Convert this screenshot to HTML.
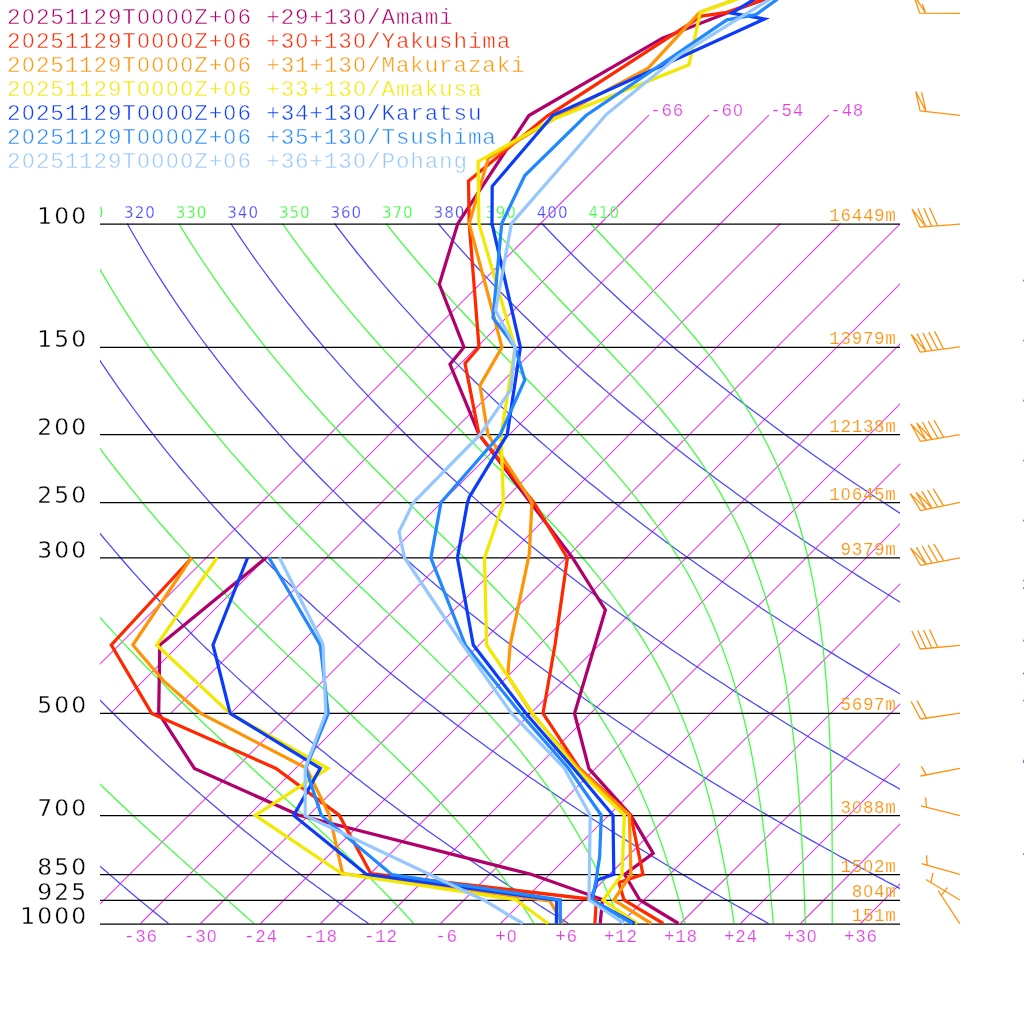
<!DOCTYPE html>
<html><head><meta charset="utf-8"><title>Emagram</title>
<style>html,body{margin:0;padding:0;background:#fff}svg{display:block}.m{font-family:"Liberation Mono",monospace}.s{font-family:"DejaVu Sans","Liberation Sans",sans-serif}</style></head><body>
<svg width="1024" height="1024" viewBox="0 0 1024 1024">
<rect width="1024" height="1024" fill="#fff"/>
<defs><clipPath id="c"><rect x="100" y="223" width="800" height="701"/><rect x="1023" y="223" width="1" height="701"/></clipPath><clipPath id="c2"><rect x="100" y="100" width="800" height="124"/></clipPath><clipPath id="c3"><rect x="100" y="190" width="800" height="40"/></clipPath></defs>
<g clip-path="url(#c)" fill="none" stroke-width="1.25">
<line x1="51.2" y1="712.8" x2="540.5" y2="223.5" stroke="#e23ee2" stroke-width="1.1"/>
<line x1="111.2" y1="712.8" x2="600.5" y2="223.5" stroke="#e23ee2" stroke-width="1.1"/>
<line x1="171.2" y1="712.8" x2="660.5" y2="223.5" stroke="#e23ee2" stroke-width="1.1"/>
<line x1="231.2" y1="712.8" x2="720.5" y2="223.5" stroke="#e23ee2" stroke-width="1.1"/>
<line x1="80.5" y1="923.5" x2="780.5" y2="223.5" stroke="#e23ee2" stroke-width="1.1"/>
<line x1="140.5" y1="923.5" x2="840.5" y2="223.5" stroke="#e23ee2" stroke-width="1.1"/>
<line x1="200.5" y1="923.5" x2="900.5" y2="223.5" stroke="#e23ee2" stroke-width="1.1"/>
<line x1="260.5" y1="923.5" x2="960.5" y2="223.5" stroke="#e23ee2" stroke-width="1.1"/>
<line x1="320.5" y1="923.5" x2="1020.5" y2="223.5" stroke="#e23ee2" stroke-width="1.1"/>
<line x1="380.5" y1="923.5" x2="1080.5" y2="223.5" stroke="#e23ee2" stroke-width="1.1"/>
<line x1="440.5" y1="923.5" x2="1140.5" y2="223.5" stroke="#e23ee2" stroke-width="1.1"/>
<line x1="500.5" y1="923.5" x2="1200.5" y2="223.5" stroke="#e23ee2" stroke-width="1.1"/>
<line x1="560.5" y1="923.5" x2="1260.5" y2="223.5" stroke="#e23ee2" stroke-width="1.1"/>
<line x1="620.5" y1="923.5" x2="1320.5" y2="223.5" stroke="#e23ee2" stroke-width="1.1"/>
<line x1="680.5" y1="923.5" x2="1380.5" y2="223.5" stroke="#e23ee2" stroke-width="1.1"/>
<line x1="740.5" y1="923.5" x2="1440.5" y2="223.5" stroke="#e23ee2" stroke-width="1.1"/>
<line x1="800.5" y1="923.5" x2="1500.5" y2="223.5" stroke="#e23ee2" stroke-width="1.1"/>
<line x1="860.5" y1="923.5" x2="1560.5" y2="223.5" stroke="#e23ee2" stroke-width="1.1"/>
<path d="M-287.5,223.5 L-284.9,238.3 L-282.2,252.5 L-279.4,266.0 L-276.5,278.9 L-273.6,291.3 L-270.6,303.3 L-267.5,314.7 L-264.4,325.8 L-261.3,336.5 L-258.2,346.8 L-255.0,356.7 L-251.8,366.4 L-248.6,375.7 L-245.4,384.8 L-242.2,393.6 L-239.0,402.2 L-235.8,410.5 L-232.6,418.6 L-229.3,426.5 L-226.1,434.2 L-222.9,441.7 L-219.7,449.1 L-216.5,456.2 L-213.3,463.2 L-210.1,470.0 L-206.9,476.7 L-203.7,483.2 L-200.6,489.6 L-197.4,495.9 L-194.3,502.1 L-191.1,508.1 L-188.0,514.0 L-184.9,519.8 L-181.8,525.5 L-178.7,531.0 L-175.6,536.5 L-172.5,541.9 L-169.5,547.2 L-166.4,552.4 L-163.4,557.5 L-160.4,562.5 L-157.4,567.5 L-154.4,572.3 L-151.4,577.1 L-148.4,581.8 L-145.4,586.5 L-142.5,591.0 L-139.5,595.5 L-136.6,600.0 L-133.7,604.3 L-130.8,608.7 L-127.9,612.9 L-125.0,617.1 L-122.2,621.2 L-119.3,625.3 L-116.5,629.3 L-113.6,633.3 L-110.8,637.2 L-108.0,641.1 L-105.2,644.9 L-102.4,648.7 L-99.6,652.4 L-96.9,656.1 L-94.1,659.8 L-91.4,663.4 L-88.7,666.9 L-85.9,670.4 L-83.2,673.9 L-80.5,677.4 L-77.8,680.7 L-75.2,684.1 L-72.5,687.4 L-69.8,690.7 L-67.2,694.0 L-64.6,697.2 L-61.9,700.4 L-59.3,703.5 L-56.7,706.6 L-54.1,709.7 L-51.5,712.8 L-49.0,715.8 L-46.4,718.8 L-43.8,721.8 L-41.3,724.7 L-38.8,727.6 L-36.2,730.5 L-33.7,733.3 L-31.2,736.2 L-28.7,739.0 L-26.2,741.8 L-23.7,744.5 L-21.3,747.2 L-18.8,749.9 L-16.3,752.6 L-13.9,755.3 L-11.5,757.9 L-9.0,760.5 L-6.6,763.1 L-4.2,765.7 L-1.8,768.2 L0.6,770.7 L3.0,773.2 L5.4,775.7 L7.7,778.2 L10.1,780.6 L12.5,783.0 L14.8,785.4 L17.2,787.8 L19.5,790.2 L21.8,792.5 L24.1,794.9 L26.4,797.2 L28.7,799.5 L31.0,801.8 L33.3,804.0 L35.6,806.3 L37.9,808.5 L40.1,810.7 L42.4,812.9 L44.6,815.1 L46.9,817.2 L49.1,819.4 L51.4,821.5 L53.6,823.6 L55.8,825.7 L58.0,827.8 L60.2,829.9 L62.4,832.0 L64.6,834.0 L66.8,836.0 L69.0,838.1 L71.1,840.1 L73.3,842.1 L75.4,844.0 L77.6,846.0 L79.7,848.0 L81.9,849.9 L84.0,851.8 L86.1,853.8 L88.3,855.7 L90.4,857.6 L92.5,859.4 L94.6,861.3 L96.7,863.2 L98.8,865.0 L100.9,866.9 L102.9,868.7 L105.0,870.5 L107.1,872.3 L109.1,874.1 L111.2,875.9 L113.2,877.6 L115.3,879.4 L117.3,881.2 L119.4,882.9 L121.4,884.6 L123.4,886.4 L125.4,888.1 L127.4,889.8 L129.4,891.5 L131.4,893.2 L133.4,894.8 L135.4,896.5 L137.4,898.2 L139.4,899.8 L141.4,901.4 L143.3,903.1 L145.3,904.7 L147.3,906.3 L149.2,907.9 L151.2,909.5 L153.1,911.1 L155.1,912.7 L157.0,914.2 L158.9,915.8 L160.8,917.4 L162.8,918.9 L164.7,920.4 L166.6,922.0 L168.5,923.5" stroke="#4848ff"/>
<path d="M-183.9,223.5 L-179.8,238.3 L-175.7,252.5 L-171.5,266.0 L-167.3,278.9 L-163.1,291.3 L-158.8,303.3 L-154.6,314.7 L-150.3,325.8 L-146.1,336.5 L-141.8,346.8 L-137.5,356.7 L-133.3,366.4 L-129.1,375.7 L-124.8,384.8 L-120.6,393.6 L-116.4,402.2 L-112.2,410.5 L-108.1,418.6 L-103.9,426.5 L-99.8,434.2 L-95.7,441.7 L-91.6,449.1 L-87.5,456.2 L-83.5,463.2 L-79.4,470.0 L-75.4,476.7 L-71.5,483.2 L-67.5,489.6 L-63.5,495.9 L-59.6,502.1 L-55.7,508.1 L-51.8,514.0 L-48.0,519.8 L-44.1,525.5 L-40.3,531.0 L-36.5,536.5 L-32.8,541.9 L-29.0,547.2 L-25.3,552.4 L-21.6,557.5 L-17.9,562.5 L-14.2,567.5 L-10.5,572.3 L-6.9,577.1 L-3.3,581.8 L0.3,586.5 L3.9,591.0 L7.5,595.5 L11.0,600.0 L14.5,604.3 L18.0,608.7 L21.5,612.9 L25.0,617.1 L28.4,621.2 L31.9,625.3 L35.3,629.3 L38.7,633.3 L42.1,637.2 L45.4,641.1 L48.8,644.9 L52.1,648.7 L55.4,652.4 L58.7,656.1 L62.0,659.8 L65.3,663.4 L68.5,666.9 L71.8,670.4 L75.0,673.9 L78.2,677.4 L81.4,680.7 L84.6,684.1 L87.7,687.4 L90.9,690.7 L94.0,694.0 L97.1,697.2 L100.3,700.4 L103.4,703.5 L106.4,706.6 L109.5,709.7 L112.6,712.8 L115.6,715.8 L118.6,718.8 L121.6,721.8 L124.6,724.7 L127.6,727.6 L130.6,730.5 L133.6,733.3 L136.5,736.2 L139.5,739.0 L142.4,741.8 L145.3,744.5 L148.2,747.2 L151.1,749.9 L154.0,752.6 L156.9,755.3 L159.7,757.9 L162.6,760.5 L165.4,763.1 L168.3,765.7 L171.1,768.2 L173.9,770.7 L176.7,773.2 L179.5,775.7 L182.2,778.2 L185.0,780.6 L187.8,783.0 L190.5,785.4 L193.2,787.8 L196.0,790.2 L198.7,792.5 L201.4,794.9 L204.1,797.2 L206.8,799.5 L209.4,801.8 L212.1,804.0 L214.8,806.3 L217.4,808.5 L220.0,810.7 L222.7,812.9 L225.3,815.1 L227.9,817.2 L230.5,819.4 L233.1,821.5 L235.7,823.6 L238.3,825.7 L240.8,827.8 L243.4,829.9 L245.9,832.0 L248.5,834.0 L251.0,836.0 L253.5,838.1 L256.1,840.1 L258.6,842.1 L261.1,844.0 L263.6,846.0 L266.1,848.0 L268.5,849.9 L271.0,851.8 L273.5,853.8 L275.9,855.7 L278.4,857.6 L280.8,859.4 L283.2,861.3 L285.7,863.2 L288.1,865.0 L290.5,866.9 L292.9,868.7 L295.3,870.5 L297.7,872.3 L300.1,874.1 L302.4,875.9 L304.8,877.6 L307.2,879.4 L309.5,881.2 L311.9,882.9 L314.2,884.6 L316.5,886.4 L318.9,888.1 L321.2,889.8 L323.5,891.5 L325.8,893.2 L328.1,894.8 L330.4,896.5 L332.7,898.2 L335.0,899.8 L337.3,901.4 L339.5,903.1 L341.8,904.7 L344.1,906.3 L346.3,907.9 L348.6,909.5 L350.8,911.1 L353.0,912.7 L355.3,914.2 L357.5,915.8 L359.7,917.4 L361.9,918.9 L364.1,920.4 L366.3,922.0 L368.5,923.5" stroke="#4848ff"/>
<path d="M-80.2,223.5 L-74.7,238.3 L-69.2,252.5 L-63.6,266.0 L-58.1,278.9 L-52.6,291.3 L-47.1,303.3 L-41.6,314.7 L-36.2,325.8 L-30.8,336.5 L-25.4,346.8 L-20.1,356.7 L-14.7,366.4 L-9.5,375.7 L-4.2,384.8 L1.0,393.6 L6.2,402.2 L11.3,410.5 L16.4,418.6 L21.5,426.5 L26.6,434.2 L31.6,441.7 L36.5,449.1 L41.5,456.2 L46.4,463.2 L51.2,470.0 L56.0,476.7 L60.8,483.2 L65.6,489.6 L70.3,495.9 L75.0,502.1 L79.7,508.1 L84.3,514.0 L88.9,519.8 L93.5,525.5 L98.0,531.0 L102.5,536.5 L107.0,541.9 L111.5,547.2 L115.9,552.4 L120.3,557.5 L124.6,562.5 L129.0,567.5 L133.3,572.3 L137.6,577.1 L141.8,581.8 L146.1,586.5 L150.3,591.0 L154.4,595.5 L158.6,600.0 L162.7,604.3 L166.8,608.7 L170.9,612.9 L175.0,617.1 L179.0,621.2 L183.0,625.3 L187.0,629.3 L191.0,633.3 L194.9,637.2 L198.8,641.1 L202.7,644.9 L206.6,648.7 L210.5,652.4 L214.3,656.1 L218.1,659.8 L221.9,663.4 L225.7,666.9 L229.5,670.4 L233.2,673.9 L236.9,677.4 L240.6,680.7 L244.3,684.1 L248.0,687.4 L251.6,690.7 L255.3,694.0 L258.9,697.2 L262.5,700.4 L266.0,703.5 L269.6,706.6 L273.1,709.7 L276.7,712.8 L280.2,715.8 L283.7,718.8 L287.1,721.8 L290.6,724.7 L294.0,727.6 L297.5,730.5 L300.9,733.3 L304.3,736.2 L307.7,739.0 L311.0,741.8 L314.4,744.5 L317.7,747.2 L321.1,749.9 L324.4,752.6 L327.7,755.3 L330.9,757.9 L334.2,760.5 L337.5,763.1 L340.7,765.7 L343.9,768.2 L347.2,770.7 L350.4,773.2 L353.6,775.7 L356.7,778.2 L359.9,780.6 L363.0,783.0 L366.2,785.4 L369.3,787.8 L372.4,790.2 L375.5,792.5 L378.6,794.9 L381.7,797.2 L384.8,799.5 L387.8,801.8 L390.9,804.0 L393.9,806.3 L396.9,808.5 L399.9,810.7 L402.9,812.9 L405.9,815.1 L408.9,817.2 L411.9,819.4 L414.8,821.5 L417.8,823.6 L420.7,825.7 L423.6,827.8 L426.6,829.9 L429.5,832.0 L432.4,834.0 L435.2,836.0 L438.1,838.1 L441.0,840.1 L443.8,842.1 L446.7,844.0 L449.5,846.0 L452.4,848.0 L455.2,849.9 L458.0,851.8 L460.8,853.8 L463.6,855.7 L466.4,857.6 L469.1,859.4 L471.9,861.3 L474.7,863.2 L477.4,865.0 L480.1,866.9 L482.9,868.7 L485.6,870.5 L488.3,872.3 L491.0,874.1 L493.7,875.9 L496.4,877.6 L499.1,879.4 L501.7,881.2 L504.4,882.9 L507.0,884.6 L509.7,886.4 L512.3,888.1 L515.0,889.8 L517.6,891.5 L520.2,893.2 L522.8,894.8 L525.4,896.5 L528.0,898.2 L530.6,899.8 L533.2,901.4 L535.7,903.1 L538.3,904.7 L540.9,906.3 L543.4,907.9 L545.9,909.5 L548.5,911.1 L551.0,912.7 L553.5,914.2 L556.0,915.8 L558.5,917.4 L561.0,918.9 L563.5,920.4 L566.0,922.0 L568.5,923.5" stroke="#4848ff"/>
<path d="M23.5,223.5 L30.4,238.3 L37.4,252.5 L44.3,266.0 L51.1,278.9 L57.9,291.3 L64.6,303.3 L71.3,314.7 L77.9,325.8 L84.5,336.5 L91.0,346.8 L97.4,356.7 L103.8,366.4 L110.1,375.7 L116.4,384.8 L122.6,393.6 L128.8,402.2 L134.9,410.5 L140.9,418.6 L146.9,426.5 L152.9,434.2 L158.8,441.7 L164.6,449.1 L170.4,456.2 L176.2,463.2 L181.9,470.0 L187.5,476.7 L193.1,483.2 L198.7,489.6 L204.2,495.9 L209.7,502.1 L215.1,508.1 L220.5,514.0 L225.8,519.8 L231.1,525.5 L236.4,531.0 L241.6,536.5 L246.8,541.9 L251.9,547.2 L257.1,552.4 L262.1,557.5 L267.2,562.5 L272.2,567.5 L277.1,572.3 L282.1,577.1 L287.0,581.8 L291.8,586.5 L296.6,591.0 L301.4,595.5 L306.2,600.0 L311.0,604.3 L315.7,608.7 L320.3,612.9 L325.0,617.1 L329.6,621.2 L334.2,625.3 L338.8,629.3 L343.3,633.3 L347.8,637.2 L352.3,641.1 L356.7,644.9 L361.2,648.7 L365.6,652.4 L369.9,656.1 L374.3,659.8 L378.6,663.4 L382.9,666.9 L387.2,670.4 L391.4,673.9 L395.7,677.4 L399.9,680.7 L404.1,684.1 L408.2,687.4 L412.4,690.7 L416.5,694.0 L420.6,697.2 L424.7,700.4 L428.7,703.5 L432.8,706.6 L436.8,709.7 L440.8,712.8 L444.7,715.8 L448.7,718.8 L452.6,721.8 L456.5,724.7 L460.4,727.6 L464.3,730.5 L468.2,733.3 L472.0,736.2 L475.9,739.0 L479.7,741.8 L483.5,744.5 L487.2,747.2 L491.0,749.9 L494.7,752.6 L498.4,755.3 L502.2,757.9 L505.8,760.5 L509.5,763.1 L513.2,765.7 L516.8,768.2 L520.4,770.7 L524.0,773.2 L527.6,775.7 L531.2,778.2 L534.8,780.6 L538.3,783.0 L541.9,785.4 L545.4,787.8 L548.9,790.2 L552.4,792.5 L555.9,794.9 L559.3,797.2 L562.8,799.5 L566.2,801.8 L569.7,804.0 L573.1,806.3 L576.5,808.5 L579.8,810.7 L583.2,812.9 L586.6,815.1 L589.9,817.2 L593.3,819.4 L596.6,821.5 L599.9,823.6 L603.2,825.7 L606.5,827.8 L609.7,829.9 L613.0,832.0 L616.2,834.0 L619.5,836.0 L622.7,838.1 L625.9,840.1 L629.1,842.1 L632.3,844.0 L635.5,846.0 L638.7,848.0 L641.8,849.9 L645.0,851.8 L648.1,853.8 L651.2,855.7 L654.4,857.6 L657.5,859.4 L660.6,861.3 L663.6,863.2 L666.7,865.0 L669.8,866.9 L672.8,868.7 L675.9,870.5 L678.9,872.3 L681.9,874.1 L685.0,875.9 L688.0,877.6 L691.0,879.4 L693.9,881.2 L696.9,882.9 L699.9,884.6 L702.8,886.4 L705.8,888.1 L708.7,889.8 L711.7,891.5 L714.6,893.2 L717.5,894.8 L720.4,896.5 L723.3,898.2 L726.2,899.8 L729.1,901.4 L731.9,903.1 L734.8,904.7 L737.7,906.3 L740.5,907.9 L743.3,909.5 L746.2,911.1 L749.0,912.7 L751.8,914.2 L754.6,915.8 L757.4,917.4 L760.2,918.9 L763.0,920.4 L765.7,922.0 L768.5,923.5" stroke="#4848ff"/>
<path d="M127.1,223.5 L135.6,238.3 L143.9,252.5 L152.1,266.0 L160.3,278.9 L168.4,291.3 L176.3,303.3 L184.2,314.7 L192.0,325.8 L199.7,336.5 L207.4,346.8 L214.9,356.7 L222.3,366.4 L229.7,375.7 L237.0,384.8 L244.2,393.6 L251.4,402.2 L258.5,410.5 L265.5,418.6 L272.4,426.5 L279.2,434.2 L286.0,441.7 L292.7,449.1 L299.4,456.2 L306.0,463.2 L312.5,470.0 L319.0,476.7 L325.4,483.2 L331.8,489.6 L338.1,495.9 L344.3,502.1 L350.5,508.1 L356.6,514.0 L362.7,519.8 L368.8,525.5 L374.8,531.0 L380.7,536.5 L386.6,541.9 L392.4,547.2 L398.2,552.4 L404.0,557.5 L409.7,562.5 L415.3,567.5 L421.0,572.3 L426.5,577.1 L432.1,581.8 L437.6,586.5 L443.0,591.0 L448.4,595.5 L453.8,600.0 L459.2,604.3 L464.5,608.7 L469.8,612.9 L475.0,617.1 L480.2,621.2 L485.4,625.3 L490.5,629.3 L495.6,633.3 L500.7,637.2 L505.7,641.1 L510.7,644.9 L515.7,648.7 L520.6,652.4 L525.5,656.1 L530.4,659.8 L535.3,663.4 L540.1,666.9 L544.9,670.4 L549.7,673.9 L554.4,677.4 L559.1,680.7 L563.8,684.1 L568.5,687.4 L573.1,690.7 L577.7,694.0 L582.3,697.2 L586.9,700.4 L591.4,703.5 L595.9,706.6 L600.4,709.7 L604.9,712.8 L609.3,715.8 L613.7,718.8 L618.1,721.8 L622.5,724.7 L626.9,727.6 L631.2,730.5 L635.5,733.3 L639.8,736.2 L644.0,739.0 L648.3,741.8 L652.5,744.5 L656.7,747.2 L660.9,749.9 L665.1,752.6 L669.2,755.3 L673.4,757.9 L677.5,760.5 L681.6,763.1 L685.6,765.7 L689.7,768.2 L693.7,770.7 L697.7,773.2 L701.7,775.7 L705.7,778.2 L709.7,780.6 L713.6,783.0 L717.6,785.4 L721.5,787.8 L725.4,790.2 L729.3,792.5 L733.1,794.9 L737.0,797.2 L740.8,799.5 L744.6,801.8 L748.4,804.0 L752.2,806.3 L756.0,808.5 L759.7,810.7 L763.5,812.9 L767.2,815.1 L770.9,817.2 L774.6,819.4 L778.3,821.5 L782.0,823.6 L785.6,825.7 L789.3,827.8 L792.9,829.9 L796.5,832.0 L800.1,834.0 L803.7,836.0 L807.3,838.1 L810.9,840.1 L814.4,842.1 L817.9,844.0 L821.5,846.0 L825.0,848.0 L828.5,849.9 L832.0,851.8 L835.4,853.8 L838.9,855.7 L842.3,857.6 L845.8,859.4 L849.2,861.3 L852.6,863.2 L856.0,865.0 L859.4,866.9 L862.8,868.7 L866.2,870.5 L869.5,872.3 L872.9,874.1 L876.2,875.9 L879.5,877.6 L882.8,879.4 L886.1,881.2 L889.4,882.9 L892.7,884.6 L896.0,886.4 L899.2,888.1 L902.5,889.8 L905.7,891.5 L909.0,893.2 L912.2,894.8 L915.4,896.5 L918.6,898.2 L921.8,899.8 L925.0,901.4 L928.1,903.1 L931.3,904.7 L934.4,906.3 L937.6,907.9 L940.7,909.5 L943.8,911.1 L947.0,912.7 L950.1,914.2 L953.2,915.8 L956.2,917.4 L959.3,918.9 L962.4,920.4 L965.4,922.0 L968.5,923.5" stroke="#4848ff"/>
<path d="M230.8,223.5 L240.7,238.3 L250.4,252.5 L260.0,266.0 L269.5,278.9 L278.8,291.3 L288.1,303.3 L297.2,314.7 L306.1,325.8 L315.0,336.5 L323.7,346.8 L332.4,356.7 L340.9,366.4 L349.3,375.7 L357.6,384.8 L365.9,393.6 L374.0,402.2 L382.0,410.5 L390.0,418.6 L397.8,426.5 L405.6,434.2 L413.3,441.7 L420.9,449.1 L428.4,456.2 L435.8,463.2 L443.2,470.0 L450.5,476.7 L457.7,483.2 L464.9,489.6 L472.0,495.9 L479.0,502.1 L485.9,508.1 L492.8,514.0 L499.6,519.8 L506.4,525.5 L513.1,531.0 L519.8,536.5 L526.4,541.9 L532.9,547.2 L539.4,552.4 L545.8,557.5 L552.2,562.5 L558.5,567.5 L564.8,572.3 L571.0,577.1 L577.2,581.8 L583.3,586.5 L589.4,591.0 L595.4,595.5 L601.4,600.0 L607.4,604.3 L613.3,608.7 L619.2,612.9 L625.0,617.1 L630.8,621.2 L636.5,625.3 L642.2,629.3 L647.9,633.3 L653.5,637.2 L659.1,641.1 L664.7,644.9 L670.2,648.7 L675.7,652.4 L681.1,656.1 L686.6,659.8 L691.9,663.4 L697.3,666.9 L702.6,670.4 L707.9,673.9 L713.1,677.4 L718.4,680.7 L723.6,684.1 L728.7,687.4 L733.8,690.7 L738.9,694.0 L744.0,697.2 L749.1,700.4 L754.1,703.5 L759.1,706.6 L764.0,709.7 L769.0,712.8 L773.9,715.8 L778.8,718.8 L783.6,721.8 L788.4,724.7 L793.3,727.6 L798.0,730.5 L802.8,733.3 L807.5,736.2 L812.2,739.0 L816.9,741.8 L821.6,744.5 L826.2,747.2 L830.8,749.9 L835.4,752.6 L840.0,755.3 L844.6,757.9 L849.1,760.5 L853.6,763.1 L858.1,765.7 L862.5,768.2 L867.0,770.7 L871.4,773.2 L875.8,775.7 L880.2,778.2 L884.6,780.6 L888.9,783.0 L893.3,785.4 L897.6,787.8 L901.8,790.2 L906.1,792.5 L910.4,794.9 L914.6,797.2 L918.8,799.5 L923.0,801.8 L927.2,804.0 L931.4,806.3 L935.5,808.5 L939.7,810.7 L943.8,812.9 L947.9,815.1 L951.9,817.2 L956.0,819.4 L960.1,821.5 L964.1,823.6 L968.1,825.7 L972.1,827.8 L976.1,829.9 L980.1,832.0 L984.0,834.0 L988.0,836.0 L991.9,838.1 L995.8,840.1 L999.7,842.1 L1003.6,844.0 L1007.4,846.0 L1011.3,848.0 L1015.1,849.9 L1018.9,851.8 L1022.8,853.8 L1026.6,855.7 L1030.3,857.6 L1034.1,859.4 L1037.9,861.3 L1041.6,863.2 L1045.3,865.0 L1049.1,866.9 L1052.8,868.7 L1056.5,870.5 L1060.1,872.3 L1063.8,874.1 L1067.5,875.9 L1071.1,877.6 L1074.7,879.4 L1078.4,881.2 L1082.0,882.9 L1085.6,884.6 L1089.1,886.4 L1092.7,888.1 L1096.3,889.8 L1099.8,891.5 L1103.4,893.2 L1106.9,894.8 L1110.4,896.5 L1113.9,898.2 L1117.4,899.8 L1120.9,901.4 L1124.3,903.1 L1127.8,904.7 L1131.2,906.3 L1134.7,907.9 L1138.1,909.5 L1141.5,911.1 L1144.9,912.7 L1148.3,914.2 L1151.7,915.8 L1155.1,917.4 L1158.5,918.9 L1161.8,920.4 L1165.2,922.0 L1168.5,923.5" stroke="#4848ff"/>
<path d="M334.5,223.5 L345.8,238.3 L356.9,252.5 L367.9,266.0 L378.7,278.9 L389.3,291.3 L399.8,303.3 L410.1,314.7 L420.2,325.8 L430.3,336.5 L440.1,346.8 L449.8,356.7 L459.4,366.4 L468.9,375.7 L478.2,384.8 L487.5,393.6 L496.6,402.2 L505.6,410.5 L514.5,418.6 L523.2,426.5 L531.9,434.2 L540.5,441.7 L549.0,449.1 L557.4,456.2 L565.6,463.2 L573.9,470.0 L582.0,476.7 L590.0,483.2 L598.0,489.6 L605.8,495.9 L613.6,502.1 L621.3,508.1 L629.0,514.0 L636.5,519.8 L644.0,525.5 L651.5,531.0 L658.8,536.5 L666.1,541.9 L673.4,547.2 L680.5,552.4 L687.6,557.5 L694.7,562.5 L701.7,567.5 L708.6,572.3 L715.5,577.1 L722.3,581.8 L729.1,586.5 L735.8,591.0 L742.4,595.5 L749.1,600.0 L755.6,604.3 L762.1,608.7 L768.6,612.9 L775.0,617.1 L781.4,621.2 L787.7,625.3 L794.0,629.3 L800.2,633.3 L806.4,637.2 L812.5,641.1 L818.7,644.9 L824.7,648.7 L830.8,652.4 L836.7,656.1 L842.7,659.8 L848.6,663.4 L854.5,666.9 L860.3,670.4 L866.1,673.9 L871.9,677.4 L877.6,680.7 L883.3,684.1 L889.0,687.4 L894.6,690.7 L900.2,694.0 L905.7,697.2 L911.3,700.4 L916.8,703.5 L922.2,706.6 L927.7,709.7 L933.1,712.8 L938.4,715.8 L943.8,718.8 L949.1,721.8 L954.4,724.7 L959.7,727.6 L964.9,730.5 L970.1,733.3 L975.3,736.2 L980.4,739.0 L985.5,741.8 L990.6,744.5 L995.7,747.2 L1000.8,749.9 L1005.8,752.6 L1010.8,755.3 L1015.8,757.9 L1020.7,760.5 L1025.6,763.1 L1030.5,765.7 L1035.4,768.2 L1040.3,770.7 L1045.1,773.2 L1049.9,775.7 L1054.7,778.2 L1059.5,780.6 L1064.2,783.0 L1068.9,785.4 L1073.6,787.8 L1078.3,790.2 L1083.0,792.5 L1087.6,794.9 L1092.2,797.2 L1096.8,799.5 L1101.4,801.8 L1106.0,804.0 L1110.5,806.3 L1115.0,808.5 L1119.6,810.7 L1124.0,812.9 L1128.5,815.1 L1133.0,817.2 L1137.4,819.4 L1141.8,821.5 L1146.2,823.6 L1150.6,825.7 L1154.9,827.8 L1159.3,829.9 L1163.6,832.0 L1167.9,834.0 L1172.2,836.0 L1176.5,838.1 L1180.7,840.1 L1185.0,842.1 L1189.2,844.0 L1193.4,846.0 L1197.6,848.0 L1201.8,849.9 L1205.9,851.8 L1210.1,853.8 L1214.2,855.7 L1218.3,857.6 L1222.4,859.4 L1226.5,861.3 L1230.6,863.2 L1234.7,865.0 L1238.7,866.9 L1242.7,868.7 L1246.8,870.5 L1250.8,872.3 L1254.7,874.1 L1258.7,875.9 L1262.7,877.6 L1266.6,879.4 L1270.6,881.2 L1274.5,882.9 L1278.4,884.6 L1282.3,886.4 L1286.2,888.1 L1290.0,889.8 L1293.9,891.5 L1297.7,893.2 L1301.6,894.8 L1305.4,896.5 L1309.2,898.2 L1313.0,899.8 L1316.8,901.4 L1320.5,903.1 L1324.3,904.7 L1328.0,906.3 L1331.8,907.9 L1335.5,909.5 L1339.2,911.1 L1342.9,912.7 L1346.6,914.2 L1350.3,915.8 L1353.9,917.4 L1357.6,918.9 L1361.2,920.4 L1364.9,922.0 L1368.5,923.5" stroke="#4848ff"/>
<path d="M438.1,223.5 L450.9,238.3 L463.5,252.5 L475.8,266.0 L487.9,278.9 L499.8,291.3 L511.5,303.3 L523.0,314.7 L534.4,325.8 L545.5,336.5 L556.5,346.8 L567.3,356.7 L578.0,366.4 L588.5,375.7 L598.9,384.8 L609.1,393.6 L619.2,402.2 L629.1,410.5 L639.0,418.6 L648.7,426.5 L658.3,434.2 L667.7,441.7 L677.1,449.1 L686.3,456.2 L695.5,463.2 L704.5,470.0 L713.5,476.7 L722.3,483.2 L731.0,489.6 L739.7,495.9 L748.3,502.1 L756.7,508.1 L765.1,514.0 L773.5,519.8 L781.7,525.5 L789.8,531.0 L797.9,536.5 L805.9,541.9 L813.8,547.2 L821.7,552.4 L829.5,557.5 L837.2,562.5 L844.9,567.5 L852.4,572.3 L860.0,577.1 L867.4,581.8 L874.8,586.5 L882.2,591.0 L889.4,595.5 L896.7,600.0 L903.8,604.3 L910.9,608.7 L918.0,612.9 L925.0,617.1 L932.0,621.2 L938.9,625.3 L945.7,629.3 L952.5,633.3 L959.3,637.2 L966.0,641.1 L972.6,644.9 L979.2,648.7 L985.8,652.4 L992.3,656.1 L998.8,659.8 L1005.3,663.4 L1011.7,666.9 L1018.0,670.4 L1024.3,673.9 L1030.6,677.4 L1036.8,680.7 L1043.0,684.1 L1049.2,687.4 L1055.3,690.7 L1061.4,694.0 L1067.5,697.2 L1073.5,700.4 L1079.4,703.5 L1085.4,706.6 L1091.3,709.7 L1097.2,712.8 L1103.0,715.8 L1108.8,718.8 L1114.6,721.8 L1120.3,724.7 L1126.1,727.6 L1131.7,730.5 L1137.4,733.3 L1143.0,736.2 L1148.6,739.0 L1154.2,741.8 L1159.7,744.5 L1165.2,747.2 L1170.7,749.9 L1176.1,752.6 L1181.6,755.3 L1187.0,757.9 L1192.3,760.5 L1197.7,763.1 L1203.0,765.7 L1208.3,768.2 L1213.5,770.7 L1218.8,773.2 L1224.0,775.7 L1229.2,778.2 L1234.4,780.6 L1239.5,783.0 L1244.6,785.4 L1249.7,787.8 L1254.8,790.2 L1259.8,792.5 L1264.9,794.9 L1269.9,797.2 L1274.9,799.5 L1279.8,801.8 L1284.8,804.0 L1289.7,806.3 L1294.6,808.5 L1299.5,810.7 L1304.3,812.9 L1309.1,815.1 L1314.0,817.2 L1318.8,819.4 L1323.5,821.5 L1328.3,823.6 L1333.0,825.7 L1337.7,827.8 L1342.4,829.9 L1347.1,832.0 L1351.8,834.0 L1356.4,836.0 L1361.0,838.1 L1365.7,840.1 L1370.2,842.1 L1374.8,844.0 L1379.4,846.0 L1383.9,848.0 L1388.4,849.9 L1392.9,851.8 L1397.4,853.8 L1401.9,855.7 L1406.3,857.6 L1410.8,859.4 L1415.2,861.3 L1419.6,863.2 L1424.0,865.0 L1428.3,866.9 L1432.7,868.7 L1437.0,870.5 L1441.4,872.3 L1445.7,874.1 L1450.0,875.9 L1454.3,877.6 L1458.5,879.4 L1462.8,881.2 L1467.0,882.9 L1471.2,884.6 L1475.4,886.4 L1479.6,888.1 L1483.8,889.8 L1488.0,891.5 L1492.1,893.2 L1496.3,894.8 L1500.4,896.5 L1504.5,898.2 L1508.6,899.8 L1512.7,901.4 L1516.7,903.1 L1520.8,904.7 L1524.8,906.3 L1528.9,907.9 L1532.9,909.5 L1536.9,911.1 L1540.9,912.7 L1544.9,914.2 L1548.8,915.8 L1552.8,917.4 L1556.7,918.9 L1560.7,920.4 L1564.6,922.0 L1568.5,923.5" stroke="#4848ff"/>
<path d="M541.8,223.5 L556.0,238.3 L570.0,252.5 L583.7,266.0 L597.1,278.9 L610.3,291.3 L623.2,303.3 L636.0,314.7 L648.5,325.8 L660.8,336.5 L672.9,346.8 L684.8,356.7 L696.5,366.4 L708.1,375.7 L719.5,384.8 L730.7,393.6 L741.8,402.2 L752.7,410.5 L763.5,418.6 L774.1,426.5 L784.6,434.2 L795.0,441.7 L805.2,449.1 L815.3,456.2 L825.3,463.2 L835.2,470.0 L844.9,476.7 L854.6,483.2 L864.1,489.6 L873.6,495.9 L882.9,502.1 L892.2,508.1 L901.3,514.0 L910.4,519.8 L919.3,525.5 L928.2,531.0 L937.0,536.5 L945.7,541.9 L954.3,547.2 L962.9,552.4 L971.3,557.5 L979.7,562.5 L988.0,567.5 L996.3,572.3 L1004.4,577.1 L1012.5,581.8 L1020.6,586.5 L1028.5,591.0 L1036.4,595.5 L1044.3,600.0 L1052.1,604.3 L1059.8,608.7 L1067.4,612.9 L1075.0,617.1 L1082.5,621.2 L1090.0,625.3 L1097.5,629.3 L1104.8,633.3 L1112.1,637.2 L1119.4,641.1 L1126.6,644.9 L1133.8,648.7 L1140.9,652.4 L1147.9,656.1 L1155.0,659.8 L1161.9,663.4 L1168.9,666.9 L1175.7,670.4 L1182.6,673.9 L1189.3,677.4 L1196.1,680.7 L1202.8,684.1 L1209.4,687.4 L1216.1,690.7 L1222.6,694.0 L1229.2,697.2 L1235.7,700.4 L1242.1,703.5 L1248.5,706.6 L1254.9,709.7 L1261.3,712.8 L1267.6,715.8 L1273.9,718.8 L1280.1,721.8 L1286.3,724.7 L1292.5,727.6 L1298.6,730.5 L1304.7,733.3 L1310.8,736.2 L1316.8,739.0 L1322.8,741.8 L1328.8,744.5 L1334.7,747.2 L1340.6,749.9 L1346.5,752.6 L1352.3,755.3 L1358.2,757.9 L1364.0,760.5 L1369.7,763.1 L1375.4,765.7 L1381.2,768.2 L1386.8,770.7 L1392.5,773.2 L1398.1,775.7 L1403.7,778.2 L1409.3,780.6 L1414.8,783.0 L1420.3,785.4 L1425.8,787.8 L1431.3,790.2 L1436.7,792.5 L1442.1,794.9 L1447.5,797.2 L1452.9,799.5 L1458.2,801.8 L1463.5,804.0 L1468.8,806.3 L1474.1,808.5 L1479.4,810.7 L1484.6,812.9 L1489.8,815.1 L1495.0,817.2 L1500.1,819.4 L1505.3,821.5 L1510.4,823.6 L1515.5,825.7 L1520.6,827.8 L1525.6,829.9 L1530.7,832.0 L1535.7,834.0 L1540.7,836.0 L1545.6,838.1 L1550.6,840.1 L1555.5,842.1 L1560.4,844.0 L1565.3,846.0 L1570.2,848.0 L1575.1,849.9 L1579.9,851.8 L1584.7,853.8 L1589.5,855.7 L1594.3,857.6 L1599.1,859.4 L1603.8,861.3 L1608.6,863.2 L1613.3,865.0 L1618.0,866.9 L1622.7,868.7 L1627.3,870.5 L1632.0,872.3 L1636.6,874.1 L1641.2,875.9 L1645.8,877.6 L1650.4,879.4 L1655.0,881.2 L1659.5,882.9 L1664.1,884.6 L1668.6,886.4 L1673.1,888.1 L1677.6,889.8 L1682.0,891.5 L1686.5,893.2 L1690.9,894.8 L1695.4,896.5 L1699.8,898.2 L1704.2,899.8 L1708.6,901.4 L1712.9,903.1 L1717.3,904.7 L1721.6,906.3 L1726.0,907.9 L1730.3,909.5 L1734.6,911.1 L1738.9,912.7 L1743.1,914.2 L1747.4,915.8 L1751.6,917.4 L1755.9,918.9 L1760.1,920.4 L1764.3,922.0 L1768.5,923.5" stroke="#4848ff"/>
<path d="M-235.9,223.5 L-232.6,238.3 L-229.1,252.5 L-225.7,266.0 L-222.1,278.9 L-218.5,291.3 L-214.9,303.3 L-211.3,314.7 L-207.6,325.8 L-203.9,336.5 L-200.2,346.8 L-196.5,356.7 L-192.8,366.4 L-189.0,375.7 L-185.3,384.8 L-181.6,393.6 L-177.9,402.2 L-174.2,410.5 L-170.5,418.6 L-166.8,426.5 L-163.2,434.2 L-159.5,441.7 L-155.8,449.1 L-152.2,456.2 L-148.6,463.2 L-145.0,470.0 L-141.4,476.7 L-137.8,483.2 L-134.2,489.6 L-130.7,495.9 L-127.2,502.1 L-123.6,508.1 L-120.1,514.0 L-116.6,519.8 L-113.2,525.5 L-109.7,531.0 L-106.3,536.5 L-102.9,541.9 L-99.4,547.2 L-96.1,552.4 L-92.7,557.5 L-89.3,562.5 L-86.0,567.5 L-82.7,572.3 L-79.3,577.1 L-76.1,581.8 L-72.8,586.5 L-69.5,591.0 L-66.3,595.5 L-63.0,600.0 L-59.8,604.3 L-56.6,608.7 L-53.4,612.9 L-50.3,617.1 L-47.1,621.2 L-44.0,625.3 L-40.8,629.3 L-37.7,633.3 L-34.6,637.2 L-31.5,641.1 L-28.5,644.9 L-25.4,648.7 L-22.4,652.4 L-19.3,656.1 L-16.3,659.8 L-13.3,663.4 L-10.3,666.9 L-7.4,670.4 L-4.4,673.9 L-1.5,677.4 L1.5,680.7 L4.4,684.1 L7.3,687.4 L10.2,690.7 L13.1,694.0 L15.9,697.2 L18.8,700.4 L21.6,703.5 L24.5,706.6 L27.3,709.7 L30.1,712.8 L32.9,715.8 L35.6,718.8 L38.4,721.8 L41.2,724.7 L43.9,727.6 L46.6,730.5 L49.4,733.3 L52.1,736.2 L54.8,739.0 L57.5,741.8 L60.1,744.5 L62.8,747.2 L65.4,749.9 L68.1,752.6 L70.7,755.3 L73.3,757.9 L75.9,760.5 L78.5,763.1 L81.1,765.7 L83.7,768.2 L86.2,770.7 L88.8,773.2 L91.3,775.7 L93.8,778.2 L96.3,780.6 L98.8,783.0 L101.3,785.4 L103.8,787.8 L106.3,790.2 L108.7,792.5 L111.2,794.9 L113.6,797.2 L116.0,799.5 L118.4,801.8 L120.8,804.0 L123.2,806.3 L125.6,808.5 L128.0,810.7 L130.3,812.9 L132.7,815.1 L135.0,817.2 L137.3,819.4 L139.7,821.5 L142.0,823.6 L144.3,825.7 L146.5,827.8 L148.8,829.9 L151.1,832.0 L153.3,834.0 L155.6,836.0 L157.8,838.1 L160.0,840.1 L162.2,842.1 L164.4,844.0 L166.6,846.0 L168.8,848.0 L170.9,849.9 L173.1,851.8 L175.2,853.8 L177.4,855.7 L179.5,857.6 L181.6,859.4 L183.7,861.3 L185.8,863.2 L187.9,865.0 L189.9,866.9 L192.0,868.7 L194.0,870.5 L196.1,872.3 L198.1,874.1 L200.1,875.9 L202.1,877.6 L204.1,879.4 L206.1,881.2 L208.0,882.9 L210.0,884.6 L212.0,886.4 L213.9,888.1 L215.8,889.8 L217.7,891.5 L219.6,893.2 L221.5,894.8 L223.4,896.5 L225.3,898.2 L227.2,899.8 L229.0,901.4 L230.9,903.1 L232.7,904.7 L234.5,906.3 L236.3,907.9 L238.1,909.5 L239.9,911.1 L241.7,912.7 L243.5,914.2 L245.3,915.8 L247.0,917.4 L248.7,918.9 L250.5,920.4 L252.2,922.0 L253.9,923.5" stroke="#3cff3c"/>
<path d="M-132.2,223.5 L-127.4,238.3 L-122.6,252.5 L-117.8,266.0 L-112.9,278.9 L-108.0,291.3 L-103.2,303.3 L-98.3,314.7 L-93.5,325.8 L-88.6,336.5 L-83.8,346.8 L-79.0,356.7 L-74.2,366.4 L-69.5,375.7 L-64.7,384.8 L-60.0,393.6 L-55.3,402.2 L-50.6,410.5 L-46.0,418.6 L-41.4,426.5 L-36.8,434.2 L-32.3,441.7 L-27.7,449.1 L-23.2,456.2 L-18.8,463.2 L-14.3,470.0 L-9.9,476.7 L-5.5,483.2 L-1.2,489.6 L3.2,495.9 L7.5,502.1 L11.8,508.1 L16.0,514.0 L20.2,519.8 L24.4,525.5 L28.6,531.0 L32.8,536.5 L36.9,541.9 L41.0,547.2 L45.1,552.4 L49.1,557.5 L53.1,562.5 L57.1,567.5 L61.1,572.3 L65.1,577.1 L69.0,581.8 L72.9,586.5 L76.8,591.0 L80.6,595.5 L84.5,600.0 L88.3,604.3 L92.1,608.7 L95.8,612.9 L99.6,617.1 L103.3,621.2 L107.0,625.3 L110.7,629.3 L114.3,633.3 L117.9,637.2 L121.6,641.1 L125.1,644.9 L128.7,648.7 L132.3,652.4 L135.8,656.1 L139.3,659.8 L142.8,663.4 L146.2,666.9 L149.7,670.4 L153.1,673.9 L156.5,677.4 L159.9,680.7 L163.3,684.1 L166.6,687.4 L169.9,690.7 L173.2,694.0 L176.5,697.2 L179.8,700.4 L183.0,703.5 L186.2,706.6 L189.4,709.7 L192.6,712.8 L195.8,715.8 L198.9,718.8 L202.0,721.8 L205.1,724.7 L208.2,727.6 L211.3,730.5 L214.3,733.3 L217.3,736.2 L220.3,739.0 L223.3,741.8 L226.3,744.5 L229.2,747.2 L232.1,749.9 L235.0,752.6 L237.9,755.3 L240.8,757.9 L243.6,760.5 L246.4,763.1 L249.2,765.7 L252.0,768.2 L254.8,770.7 L257.5,773.2 L260.2,775.7 L262.9,778.2 L265.6,780.6 L268.3,783.0 L270.9,785.4 L273.5,787.8 L276.1,790.2 L278.7,792.5 L281.3,794.9 L283.8,797.2 L286.3,799.5 L288.8,801.8 L291.3,804.0 L293.8,806.3 L296.2,808.5 L298.7,810.7 L301.1,812.9 L303.4,815.1 L305.8,817.2 L308.1,819.4 L310.5,821.5 L312.8,823.6 L315.1,825.7 L317.3,827.8 L319.6,829.9 L321.8,832.0 L324.0,834.0 L326.2,836.0 L328.4,838.1 L330.5,840.1 L332.6,842.1 L334.8,844.0 L336.9,846.0 L338.9,848.0 L341.0,849.9 L343.0,851.8 L345.1,853.8 L347.1,855.7 L349.0,857.6 L351.0,859.4 L353.0,861.3 L354.9,863.2 L356.8,865.0 L358.7,866.9 L360.6,868.7 L362.4,870.5 L364.3,872.3 L366.1,874.1 L367.9,875.9 L369.7,877.6 L371.5,879.4 L373.3,881.2 L375.0,882.9 L376.7,884.6 L378.4,886.4 L380.1,888.1 L381.8,889.8 L383.5,891.5 L385.1,893.2 L386.8,894.8 L388.4,896.5 L390.0,898.2 L391.6,899.8 L393.2,901.4 L394.7,903.1 L396.3,904.7 L397.8,906.3 L399.3,907.9 L400.8,909.5 L402.3,911.1 L403.8,912.7 L405.2,914.2 L406.7,915.8 L408.1,917.4 L409.5,918.9 L410.9,920.4 L412.3,922.0 L413.7,923.5" stroke="#3cff3c"/>
<path d="M-28.6,223.5 L-22.3,238.3 L-16.1,252.5 L-9.9,266.0 L-3.7,278.9 L2.4,291.3 L8.5,303.3 L14.6,314.7 L20.6,325.8 L26.6,336.5 L32.6,346.8 L38.5,356.7 L44.3,366.4 L50.1,375.7 L55.9,384.8 L61.6,393.6 L67.3,402.2 L72.9,410.5 L78.5,418.6 L84.0,426.5 L89.5,434.2 L94.9,441.7 L100.4,449.1 L105.7,456.2 L111.0,463.2 L116.3,470.0 L121.5,476.7 L126.7,483.2 L131.9,489.6 L137.0,495.9 L142.0,502.1 L147.1,508.1 L152.1,514.0 L157.0,519.8 L161.9,525.5 L166.8,531.0 L171.6,536.5 L176.4,541.9 L181.2,547.2 L185.9,552.4 L190.6,557.5 L195.2,562.5 L199.9,567.5 L204.4,572.3 L209.0,577.1 L213.5,581.8 L218.0,586.5 L222.4,591.0 L226.8,595.5 L231.1,600.0 L235.5,604.3 L239.8,608.7 L244.0,612.9 L248.2,617.1 L252.4,621.2 L256.6,625.3 L260.7,629.3 L264.8,633.3 L268.8,637.2 L272.8,641.1 L276.8,644.9 L280.8,648.7 L284.7,652.4 L288.5,656.1 L292.4,659.8 L296.2,663.4 L299.9,666.9 L303.7,670.4 L307.4,673.9 L311.0,677.4 L314.6,680.7 L318.2,684.1 L321.8,687.4 L325.3,690.7 L328.7,694.0 L332.2,697.2 L335.6,700.4 L339.0,703.5 L342.3,706.6 L345.6,709.7 L348.9,712.8 L352.1,715.8 L355.3,718.8 L358.4,721.8 L361.5,724.7 L364.6,727.6 L367.7,730.5 L370.7,733.3 L373.7,736.2 L376.6,739.0 L379.5,741.8 L382.4,744.5 L385.2,747.2 L388.0,749.9 L390.8,752.6 L393.5,755.3 L396.3,757.9 L398.9,760.5 L401.6,763.1 L404.2,765.7 L406.7,768.2 L409.3,770.7 L411.8,773.2 L414.2,775.7 L416.7,778.2 L419.1,780.6 L421.5,783.0 L423.8,785.4 L426.1,787.8 L428.4,790.2 L430.7,792.5 L432.9,794.9 L435.1,797.2 L437.3,799.5 L439.4,801.8 L441.6,804.0 L443.6,806.3 L445.7,808.5 L447.7,810.7 L449.7,812.9 L451.7,815.1 L453.7,817.2 L455.6,819.4 L457.5,821.5 L459.4,823.6 L461.2,825.7 L463.0,827.8 L464.8,829.9 L466.6,832.0 L468.4,834.0 L470.1,836.0 L471.8,838.1 L473.5,840.1 L475.2,842.1 L476.8,844.0 L478.4,846.0 L480.0,848.0 L481.6,849.9 L483.2,851.8 L484.7,853.8 L486.2,855.7 L487.7,857.6 L489.2,859.4 L490.7,861.3 L492.1,863.2 L493.6,865.0 L495.0,866.9 L496.4,868.7 L497.7,870.5 L499.1,872.3 L500.4,874.1 L501.7,875.9 L503.0,877.6 L504.3,879.4 L505.6,881.2 L506.9,882.9 L508.1,884.6 L509.3,886.4 L510.5,888.1 L511.7,889.8 L512.9,891.5 L514.1,893.2 L515.2,894.8 L516.4,896.5 L517.5,898.2 L518.6,899.8 L519.7,901.4 L520.8,903.1 L521.9,904.7 L523.0,906.3 L524.0,907.9 L525.0,909.5 L526.1,911.1 L527.1,912.7 L528.1,914.2 L529.1,915.8 L530.1,917.4 L531.0,918.9 L532.0,920.4 L532.9,922.0 L533.9,923.5" stroke="#3cff3c"/>
<path d="M75.1,223.5 L82.8,238.3 L90.4,252.5 L98.0,266.0 L105.5,278.9 L112.9,291.3 L120.3,303.3 L127.5,314.7 L134.8,325.8 L141.9,336.5 L148.9,346.8 L155.9,356.7 L162.9,366.4 L169.7,375.7 L176.5,384.8 L183.2,393.6 L189.8,402.2 L196.4,410.5 L202.9,418.6 L209.3,426.5 L215.7,434.2 L222.0,441.7 L228.3,449.1 L234.5,456.2 L240.6,463.2 L246.7,470.0 L252.7,476.7 L258.6,483.2 L264.5,489.6 L270.3,495.9 L276.1,502.1 L281.8,508.1 L287.4,514.0 L293.0,519.8 L298.5,525.5 L304.0,531.0 L309.4,536.5 L314.7,541.9 L320.0,547.2 L325.2,552.4 L330.4,557.5 L335.5,562.5 L340.6,567.5 L345.5,572.3 L350.5,577.1 L355.3,581.8 L360.1,586.5 L364.9,591.0 L369.6,595.5 L374.2,600.0 L378.7,604.3 L383.2,608.7 L387.7,612.9 L392.1,617.1 L396.4,621.2 L400.6,625.3 L404.8,629.3 L408.9,633.3 L413.0,637.2 L417.0,641.1 L420.9,644.9 L424.8,648.7 L428.6,652.4 L432.4,656.1 L436.1,659.8 L439.7,663.4 L443.3,666.9 L446.8,670.4 L450.3,673.9 L453.7,677.4 L457.0,680.7 L460.3,684.1 L463.5,687.4 L466.7,690.7 L469.8,694.0 L472.9,697.2 L475.9,700.4 L478.9,703.5 L481.8,706.6 L484.6,709.7 L487.4,712.8 L490.2,715.8 L492.9,718.8 L495.5,721.8 L498.1,724.7 L500.7,727.6 L503.2,730.5 L505.6,733.3 L508.1,736.2 L510.4,739.0 L512.8,741.8 L515.1,744.5 L517.3,747.2 L519.5,749.9 L521.7,752.6 L523.8,755.3 L525.9,757.9 L527.9,760.5 L530.0,763.1 L531.9,765.7 L533.9,768.2 L535.8,770.7 L537.7,773.2 L539.5,775.7 L541.3,778.2 L543.1,780.6 L544.8,783.0 L546.6,785.4 L548.2,787.8 L549.9,790.2 L551.5,792.5 L553.1,794.9 L554.7,797.2 L556.3,799.5 L557.8,801.8 L559.3,804.0 L560.7,806.3 L562.2,808.5 L563.6,810.7 L565.0,812.9 L566.4,815.1 L567.7,817.2 L569.1,819.4 L570.4,821.5 L571.7,823.6 L572.9,825.7 L574.2,827.8 L575.4,829.9 L576.6,832.0 L577.8,834.0 L579.0,836.0 L580.1,838.1 L581.3,840.1 L582.4,842.1 L583.5,844.0 L584.6,846.0 L585.6,848.0 L586.7,849.9 L587.7,851.8 L588.8,853.8 L589.8,855.7 L590.8,857.6 L591.7,859.4 L592.7,861.3 L593.7,863.2 L594.6,865.0 L595.5,866.9 L596.4,868.7 L597.3,870.5 L598.2,872.3 L599.1,874.1 L599.9,875.9 L600.8,877.6 L601.6,879.4 L602.5,881.2 L603.3,882.9 L604.1,884.6 L604.9,886.4 L605.7,888.1 L606.4,889.8 L607.2,891.5 L608.0,893.2 L608.7,894.8 L609.4,896.5 L610.2,898.2 L610.9,899.8 L611.6,901.4 L612.3,903.1 L613.0,904.7 L613.7,906.3 L614.3,907.9 L615.0,909.5 L615.7,911.1 L616.3,912.7 L617.0,914.2 L617.6,915.8 L618.2,917.4 L618.8,918.9 L619.5,920.4 L620.1,922.0 L620.7,923.5" stroke="#3cff3c"/>
<path d="M178.8,223.5 L187.9,238.3 L196.9,252.5 L205.9,266.0 L214.7,278.9 L223.4,291.3 L232.0,303.3 L240.4,314.7 L248.8,325.8 L257.1,336.5 L265.2,346.8 L273.3,356.7 L281.2,366.4 L289.1,375.7 L296.9,384.8 L304.5,393.6 L312.1,402.2 L319.5,410.5 L326.9,418.6 L334.1,426.5 L341.3,434.2 L348.4,441.7 L355.4,449.1 L362.2,456.2 L369.0,463.2 L375.7,470.0 L382.3,476.7 L388.8,483.2 L395.2,489.6 L401.5,495.9 L407.7,502.1 L413.8,508.1 L419.8,514.0 L425.6,519.8 L431.4,525.5 L437.1,531.0 L442.7,536.5 L448.2,541.9 L453.6,547.2 L458.8,552.4 L464.0,557.5 L469.1,562.5 L474.0,567.5 L478.9,572.3 L483.6,577.1 L488.3,581.8 L492.9,586.5 L497.3,591.0 L501.7,595.5 L505.9,600.0 L510.1,604.3 L514.1,608.7 L518.1,612.9 L522.0,617.1 L525.8,621.2 L529.5,625.3 L533.1,629.3 L536.6,633.3 L540.0,637.2 L543.4,641.1 L546.7,644.9 L549.8,648.7 L553.0,652.4 L556.0,656.1 L559.0,659.8 L561.9,663.4 L564.7,666.9 L567.4,670.4 L570.1,673.9 L572.7,677.4 L575.3,680.7 L577.8,684.1 L580.2,687.4 L582.6,690.7 L584.9,694.0 L587.2,697.2 L589.4,700.4 L591.5,703.5 L593.6,706.6 L595.7,709.7 L597.7,712.8 L599.6,715.8 L601.6,718.8 L603.4,721.8 L605.3,724.7 L607.0,727.6 L608.8,730.5 L610.5,733.3 L612.2,736.2 L613.8,739.0 L615.4,741.8 L616.9,744.5 L618.5,747.2 L620.0,749.9 L621.4,752.6 L622.9,755.3 L624.3,757.9 L625.6,760.5 L627.0,763.1 L628.3,765.7 L629.6,768.2 L630.8,770.7 L632.1,773.2 L633.3,775.7 L634.5,778.2 L635.6,780.6 L636.8,783.0 L637.9,785.4 L639.0,787.8 L640.1,790.2 L641.1,792.5 L642.2,794.9 L643.2,797.2 L644.2,799.5 L645.2,801.8 L646.1,804.0 L647.1,806.3 L648.0,808.5 L648.9,810.7 L649.8,812.9 L650.7,815.1 L651.5,817.2 L652.4,819.4 L653.2,821.5 L654.0,823.6 L654.8,825.7 L655.6,827.8 L656.4,829.9 L657.2,832.0 L657.9,834.0 L658.7,836.0 L659.4,838.1 L660.1,840.1 L660.8,842.1 L661.5,844.0 L662.2,846.0 L662.9,848.0 L663.5,849.9 L664.2,851.8 L664.8,853.8 L665.5,855.7 L666.1,857.6 L666.7,859.4 L667.3,861.3 L667.9,863.2 L668.5,865.0 L669.1,866.9 L669.6,868.7 L670.2,870.5 L670.8,872.3 L671.3,874.1 L671.8,875.9 L672.4,877.6 L672.9,879.4 L673.4,881.2 L673.9,882.9 L674.4,884.6 L674.9,886.4 L675.4,888.1 L675.9,889.8 L676.4,891.5 L676.9,893.2 L677.3,894.8 L677.8,896.5 L678.2,898.2 L678.7,899.8 L679.1,901.4 L679.6,903.1 L680.0,904.7 L680.4,906.3 L680.8,907.9 L681.3,909.5 L681.7,911.1 L682.1,912.7 L682.5,914.2 L682.9,915.8 L683.3,917.4 L683.6,918.9 L684.0,920.4 L684.4,922.0 L684.8,923.5" stroke="#3cff3c"/>
<path d="M282.4,223.5 L293.0,238.3 L303.4,252.5 L313.7,266.0 L323.8,278.9 L333.7,291.3 L343.5,303.3 L353.1,314.7 L362.6,325.8 L371.9,336.5 L381.1,346.8 L390.1,356.7 L399.0,366.4 L407.7,375.7 L416.3,384.8 L424.7,393.6 L433.0,402.2 L441.1,410.5 L449.0,418.6 L456.8,426.5 L464.4,434.2 L471.9,441.7 L479.2,449.1 L486.3,456.2 L493.3,463.2 L500.1,470.0 L506.7,476.7 L513.2,483.2 L519.5,489.6 L525.6,495.9 L531.6,502.1 L537.4,508.1 L543.0,514.0 L548.5,519.8 L553.8,525.5 L558.9,531.0 L563.9,536.5 L568.8,541.9 L573.5,547.2 L578.0,552.4 L582.4,557.5 L586.7,562.5 L590.8,567.5 L594.8,572.3 L598.7,577.1 L602.4,581.8 L606.0,586.5 L609.6,591.0 L612.9,595.5 L616.2,600.0 L619.4,604.3 L622.5,608.7 L625.4,612.9 L628.3,617.1 L631.1,621.2 L633.8,625.3 L636.4,629.3 L639.0,633.3 L641.4,637.2 L643.8,641.1 L646.1,644.9 L648.3,648.7 L650.5,652.4 L652.6,656.1 L654.6,659.8 L656.6,663.4 L658.5,666.9 L660.4,670.4 L662.2,673.9 L663.9,677.4 L665.6,680.7 L667.3,684.1 L668.9,687.4 L670.5,690.7 L672.0,694.0 L673.5,697.2 L674.9,700.4 L676.3,703.5 L677.7,706.6 L679.0,709.7 L680.3,712.8 L681.6,715.8 L682.8,718.8 L684.0,721.8 L685.2,724.7 L686.3,727.6 L687.4,730.5 L688.5,733.3 L689.6,736.2 L690.6,739.0 L691.6,741.8 L692.6,744.5 L693.5,747.2 L694.5,749.9 L695.4,752.6 L696.3,755.3 L697.2,757.9 L698.0,760.5 L698.9,763.1 L699.7,765.7 L700.5,768.2 L701.3,770.7 L702.0,773.2 L702.8,775.7 L703.5,778.2 L704.2,780.6 L704.9,783.0 L705.6,785.4 L706.3,787.8 L707.0,790.2 L707.6,792.5 L708.2,794.9 L708.9,797.2 L709.5,799.5 L710.1,801.8 L710.7,804.0 L711.2,806.3 L711.8,808.5 L712.4,810.7 L712.9,812.9 L713.4,815.1 L714.0,817.2 L714.5,819.4 L715.0,821.5 L715.5,823.6 L716.0,825.7 L716.5,827.8 L716.9,829.9 L717.4,832.0 L717.9,834.0 L718.3,836.0 L718.7,838.1 L719.2,840.1 L719.6,842.1 L720.0,844.0 L720.4,846.0 L720.9,848.0 L721.3,849.9 L721.6,851.8 L722.0,853.8 L722.4,855.7 L722.8,857.6 L723.2,859.4 L723.5,861.3 L723.9,863.2 L724.2,865.0 L724.6,866.9 L724.9,868.7 L725.3,870.5 L725.6,872.3 L725.9,874.1 L726.3,875.9 L726.6,877.6 L726.9,879.4 L727.2,881.2 L727.5,882.9 L727.8,884.6 L728.1,886.4 L728.4,888.1 L728.7,889.8 L729.0,891.5 L729.3,893.2 L729.6,894.8 L729.8,896.5 L730.1,898.2 L730.4,899.8 L730.6,901.4 L730.9,903.1 L731.2,904.7 L731.4,906.3 L731.7,907.9 L731.9,909.5 L732.2,911.1 L732.4,912.7 L732.6,914.2 L732.9,915.8 L733.1,917.4 L733.4,918.9 L733.6,920.4 L733.8,922.0 L734.0,923.5" stroke="#3cff3c"/>
<path d="M385.9,223.5 L397.9,238.3 L409.7,252.5 L421.2,266.0 L432.5,278.9 L443.6,291.3 L454.4,303.3 L465.0,314.7 L475.3,325.8 L485.4,336.5 L495.3,346.8 L504.9,356.7 L514.3,366.4 L523.5,375.7 L532.3,384.8 L540.9,393.6 L549.3,402.2 L557.4,410.5 L565.2,418.6 L572.7,426.5 L580.0,434.2 L587.1,441.7 L593.8,449.1 L600.3,456.2 L606.6,463.2 L612.6,470.0 L618.4,476.7 L624.0,483.2 L629.3,489.6 L634.4,495.9 L639.3,502.1 L643.9,508.1 L648.4,514.0 L652.7,519.8 L656.8,525.5 L660.8,531.0 L664.6,536.5 L668.2,541.9 L671.7,547.2 L675.0,552.4 L678.2,557.5 L681.2,562.5 L684.2,567.5 L687.0,572.3 L689.7,577.1 L692.3,581.8 L694.7,586.5 L697.1,591.0 L699.4,595.5 L701.6,600.0 L703.8,604.3 L705.8,608.7 L707.8,612.9 L709.7,617.1 L711.5,621.2 L713.2,625.3 L714.9,629.3 L716.6,633.3 L718.2,637.2 L719.7,641.1 L721.1,644.9 L722.6,648.7 L723.9,652.4 L725.3,656.1 L726.5,659.8 L727.8,663.4 L729.0,666.9 L730.1,670.4 L731.3,673.9 L732.4,677.4 L733.4,680.7 L734.4,684.1 L735.4,687.4 L736.4,690.7 L737.3,694.0 L738.2,697.2 L739.1,700.4 L739.9,703.5 L740.8,706.6 L741.6,709.7 L742.4,712.8 L743.1,715.8 L743.9,718.8 L744.6,721.8 L745.3,724.7 L746.0,727.6 L746.6,730.5 L747.3,733.3 L747.9,736.2 L748.5,739.0 L749.1,741.8 L749.7,744.5 L750.3,747.2 L750.8,749.9 L751.4,752.6 L751.9,755.3 L752.4,757.9 L752.9,760.5 L753.4,763.1 L753.9,765.7 L754.3,768.2 L754.8,770.7 L755.2,773.2 L755.7,775.7 L756.1,778.2 L756.5,780.6 L756.9,783.0 L757.3,785.4 L757.7,787.8 L758.1,790.2 L758.5,792.5 L758.8,794.9 L759.2,797.2 L759.5,799.5 L759.9,801.8 L760.2,804.0 L760.5,806.3 L760.9,808.5 L761.2,810.7 L761.5,812.9 L761.8,815.1 L762.1,817.2 L762.4,819.4 L762.7,821.5 L763.0,823.6 L763.2,825.7 L763.5,827.8 L763.8,829.9 L764.0,832.0 L764.3,834.0 L764.5,836.0 L764.8,838.1 L765.0,840.1 L765.3,842.1 L765.5,844.0 L765.7,846.0 L766.0,848.0 L766.2,849.9 L766.4,851.8 L766.6,853.8 L766.8,855.7 L767.1,857.6 L767.3,859.4 L767.5,861.3 L767.7,863.2 L767.9,865.0 L768.0,866.9 L768.2,868.7 L768.4,870.5 L768.6,872.3 L768.8,874.1 L769.0,875.9 L769.1,877.6 L769.3,879.4 L769.5,881.2 L769.7,882.9 L769.8,884.6 L770.0,886.4 L770.2,888.1 L770.3,889.8 L770.5,891.5 L770.6,893.2 L770.8,894.8 L770.9,896.5 L771.1,898.2 L771.2,899.8 L771.4,901.4 L771.5,903.1 L771.7,904.7 L771.8,906.3 L771.9,907.9 L772.1,909.5 L772.2,911.1 L772.3,912.7 L772.5,914.2 L772.6,915.8 L772.7,917.4 L772.9,918.9 L773.0,920.4 L773.1,922.0 L773.2,923.5" stroke="#3cff3c"/>
<path d="M489.0,223.5 L502.2,238.3 L515.1,252.5 L527.6,266.0 L539.7,278.9 L551.5,291.3 L562.9,303.3 L573.9,314.7 L584.5,325.8 L594.7,336.5 L604.4,346.8 L613.8,356.7 L622.8,366.4 L631.4,375.7 L639.6,384.8 L647.3,393.6 L654.7,402.2 L661.8,410.5 L668.4,418.6 L674.7,426.5 L680.7,434.2 L686.4,441.7 L691.7,449.1 L696.8,456.2 L701.6,463.2 L706.1,470.0 L710.4,476.7 L714.5,483.2 L718.3,489.6 L722.0,495.9 L725.4,502.1 L728.7,508.1 L731.8,514.0 L734.8,519.8 L737.5,525.5 L740.2,531.0 L742.7,536.5 L745.1,541.9 L747.4,547.2 L749.5,552.4 L751.6,557.5 L753.6,562.5 L755.5,567.5 L757.2,572.3 L758.9,577.1 L760.6,581.8 L762.1,586.5 L763.6,591.0 L765.0,595.5 L766.4,600.0 L767.7,604.3 L769.0,608.7 L770.2,612.9 L771.3,617.1 L772.4,621.2 L773.5,625.3 L774.5,629.3 L775.5,633.3 L776.4,637.2 L777.3,641.1 L778.2,644.9 L779.0,648.7 L779.8,652.4 L780.6,656.1 L781.3,659.8 L782.0,663.4 L782.7,666.9 L783.4,670.4 L784.1,673.9 L784.7,677.4 L785.3,680.7 L785.9,684.1 L786.4,687.4 L787.0,690.7 L787.5,694.0 L788.0,697.2 L788.5,700.4 L788.9,703.5 L789.4,706.6 L789.9,709.7 L790.3,712.8 L790.7,715.8 L791.1,718.8 L791.5,721.8 L791.9,724.7 L792.2,727.6 L792.6,730.5 L792.9,733.3 L793.3,736.2 L793.6,739.0 L793.9,741.8 L794.2,744.5 L794.5,747.2 L794.8,749.9 L795.1,752.6 L795.4,755.3 L795.6,757.9 L795.9,760.5 L796.2,763.1 L796.4,765.7 L796.6,768.2 L796.9,770.7 L797.1,773.2 L797.3,775.7 L797.5,778.2 L797.7,780.6 L797.9,783.0 L798.1,785.4 L798.3,787.8 L798.5,790.2 L798.7,792.5 L798.9,794.9 L799.1,797.2 L799.2,799.5 L799.4,801.8 L799.6,804.0 L799.7,806.3 L799.9,808.5 L800.0,810.7 L800.2,812.9 L800.3,815.1 L800.5,817.2 L800.6,819.4 L800.7,821.5 L800.9,823.6 L801.0,825.7 L801.1,827.8 L801.2,829.9 L801.4,832.0 L801.5,834.0 L801.6,836.0 L801.7,838.1 L801.8,840.1 L801.9,842.1 L802.0,844.0 L802.1,846.0 L802.2,848.0 L802.3,849.9 L802.4,851.8 L802.5,853.8 L802.6,855.7 L802.7,857.6 L802.8,859.4 L802.9,861.3 L803.0,863.2 L803.1,865.0 L803.2,866.9 L803.2,868.7 L803.3,870.5 L803.4,872.3 L803.5,874.1 L803.6,875.9 L803.6,877.6 L803.7,879.4 L803.8,881.2 L803.8,882.9 L803.9,884.6 L804.0,886.4 L804.0,888.1 L804.1,889.8 L804.2,891.5 L804.2,893.2 L804.3,894.8 L804.4,896.5 L804.4,898.2 L804.5,899.8 L804.6,901.4 L804.6,903.1 L804.7,904.7 L804.7,906.3 L804.8,907.9 L804.8,909.5 L804.9,911.1 L804.9,912.7 L805.0,914.2 L805.1,915.8 L805.1,917.4 L805.2,918.9 L805.2,920.4 L805.3,922.0 L805.3,923.5" stroke="#3cff3c"/>
<path d="M590.5,223.5 L604.4,238.3 L617.7,252.5 L630.4,266.0 L642.5,278.9 L654.0,291.3 L664.9,303.3 L675.2,314.7 L684.9,325.8 L694.0,336.5 L702.5,346.8 L710.5,356.7 L717.9,366.4 L724.9,375.7 L731.3,384.8 L737.4,393.6 L743.0,402.2 L748.2,410.5 L753.1,418.6 L757.7,426.5 L761.9,434.2 L765.9,441.7 L769.6,449.1 L773.1,456.2 L776.3,463.2 L779.3,470.0 L782.1,476.7 L784.8,483.2 L787.3,489.6 L789.6,495.9 L791.8,502.1 L793.9,508.1 L795.8,514.0 L797.7,519.8 L799.4,525.5 L801.0,531.0 L802.5,536.5 L804.0,541.9 L805.3,547.2 L806.6,552.4 L807.9,557.5 L809.0,562.5 L810.1,567.5 L811.2,572.3 L812.1,577.1 L813.1,581.8 L814.0,586.5 L814.8,591.0 L815.6,595.5 L816.4,600.0 L817.1,604.3 L817.8,608.7 L818.4,612.9 L819.1,617.1 L819.7,621.2 L820.2,625.3 L820.8,629.3 L821.3,633.3 L821.8,637.2 L822.2,641.1 L822.7,644.9 L823.1,648.7 L823.5,652.4 L823.9,656.1 L824.3,659.8 L824.7,663.4 L825.0,666.9 L825.3,670.4 L825.6,673.9 L825.9,677.4 L826.2,680.7 L826.5,684.1 L826.7,687.4 L827.0,690.7 L827.2,694.0 L827.5,697.2 L827.7,700.4 L827.9,703.5 L828.1,706.6 L828.3,709.7 L828.5,712.8 L828.6,715.8 L828.8,718.8 L829.0,721.8 L829.1,724.7 L829.3,727.6 L829.4,730.5 L829.6,733.3 L829.7,736.2 L829.8,739.0 L829.9,741.8 L830.0,744.5 L830.2,747.2 L830.3,749.9 L830.4,752.6 L830.5,755.3 L830.6,757.9 L830.6,760.5 L830.7,763.1 L830.8,765.7 L830.9,768.2 L831.0,770.7 L831.0,773.2 L831.1,775.7 L831.2,778.2 L831.2,780.6 L831.3,783.0 L831.3,785.4 L831.4,787.8 L831.4,790.2 L831.5,792.5 L831.5,794.9 L831.6,797.2 L831.6,799.5 L831.7,801.8 L831.7,804.0 L831.7,806.3 L831.8,808.5 L831.8,810.7 L831.8,812.9 L831.9,815.1 L831.9,817.2 L831.9,819.4 L831.9,821.5 L832.0,823.6 L832.0,825.7 L832.0,827.8 L832.0,829.9 L832.1,832.0 L832.1,834.0 L832.1,836.0 L832.1,838.1 L832.1,840.1 L832.1,842.1 L832.1,844.0 L832.2,846.0 L832.2,848.0 L832.2,849.9 L832.2,851.8 L832.2,853.8 L832.2,855.7 L832.2,857.6 L832.2,859.4 L832.2,861.3 L832.2,863.2 L832.2,865.0 L832.2,866.9 L832.2,868.7 L832.2,870.5 L832.2,872.3 L832.3,874.1 L832.3,875.9 L832.3,877.6 L832.3,879.4 L832.3,881.2 L832.3,882.9 L832.3,884.6 L832.3,886.4 L832.3,888.1 L832.3,889.8 L832.3,891.5 L832.2,893.2 L832.2,894.8 L832.2,896.5 L832.2,898.2 L832.2,899.8 L832.2,901.4 L832.2,903.1 L832.2,904.7 L832.2,906.3 L832.2,907.9 L832.2,909.5 L832.2,911.1 L832.2,912.7 L832.2,914.2 L832.2,915.8 L832.2,917.4 L832.2,918.9 L832.2,920.4 L832.2,922.0 L832.2,923.5" stroke="#3cff3c"/>
</g>
<g stroke="#e23ee2" stroke-width="1.1">
<line x1="540.5" y1="223.5" x2="648.9" y2="115.1"/>
<line x1="600.5" y1="223.5" x2="708.9" y2="115.1"/>
<line x1="660.5" y1="223.5" x2="768.9" y2="115.1"/>
<line x1="720.5" y1="223.5" x2="828.9" y2="115.1"/>
</g>
<g class="m" font-size="17.6" fill="#e23ee2" stroke="#fff" stroke-width="0.2">
<text x="650.25 661.45 672.65" y="115.8">-66</text>
<text x="710.25 721.45 733.23" y="115.8">-6<tspan font-family="Liberation Sans" font-size="16.86">0</tspan></text>
<text x="770.25 781.45 792.65" y="115.8">-54</text>
<text x="830.25 841.45 852.65" y="115.8">-48</text>
<text x="124.12 135.32 146.52" y="941.8">-36</text>
<text x="184.12 195.32 207.10" y="941.8">-3<tspan font-family="Liberation Sans" font-size="16.86">0</tspan></text>
<text x="244.12 255.32 266.52" y="941.8">-24</text>
<text x="304.12 315.32 326.52" y="941.8">-18</text>
<text x="364.12 375.32 386.52" y="941.8">-12</text>
<text x="435.32 446.52" y="941.8">-6</text>
<text x="495.32 507.10" y="941.8">+<tspan font-family="Liberation Sans" font-size="16.86">0</tspan></text>
<text x="555.32 566.52" y="941.8">+6</text>
<text x="604.12 615.32 626.52" y="941.8">+12</text>
<text x="664.12 675.32 686.52" y="941.8">+18</text>
<text x="724.12 735.32 746.52" y="941.8">+24</text>
<text x="784.12 795.32 807.10" y="941.8">+3<tspan font-family="Liberation Sans" font-size="16.86">0</tspan></text>
<text x="844.12 855.32 866.52" y="941.8">+36</text>
</g>
<g class="s" font-size="15.1" letter-spacing="0.95" clip-path="url(#c3)" stroke="#fff" stroke-width="0.25">
<text x="72.6" y="218.3" fill="#3cff3c">310</text>
<text x="124.1" y="218.3" fill="#4848ff">320</text>
<text x="175.7" y="218.3" fill="#3cff3c">330</text>
<text x="227.3" y="218.3" fill="#4848ff">340</text>
<text x="278.9" y="218.3" fill="#3cff3c">350</text>
<text x="330.5" y="218.3" fill="#4848ff">360</text>
<text x="382.0" y="218.3" fill="#3cff3c">370</text>
<text x="433.6" y="218.3" fill="#4848ff">380</text>
<text x="485.2" y="218.3" fill="#3cff3c">390</text>
<text x="536.8" y="218.3" fill="#4848ff">400</text>
<text x="588.4" y="218.3" fill="#3cff3c">410</text>
</g>
<g stroke="#000" stroke-width="1.25">
<line x1="100" y1="224.0" x2="900" y2="224.0"/>
<line x1="100" y1="347.26" x2="900" y2="347.26"/>
<line x1="100" y1="434.72" x2="900" y2="434.72"/>
<line x1="100" y1="502.56" x2="900" y2="502.56"/>
<line x1="100" y1="557.98" x2="900" y2="557.98"/>
<line x1="100" y1="713.28" x2="900" y2="713.28"/>
<line x1="100" y1="815.57" x2="900" y2="815.57"/>
<line x1="100" y1="874.59" x2="900" y2="874.59"/>
<line x1="100" y1="900.3" x2="900" y2="900.3"/>
<line x1="100" y1="924.0" x2="900" y2="924.0"/>
</g>
<g class="s" font-size="23.4" letter-spacing="2.1" fill="#000" stroke="#fff" stroke-width="0.4">
<text x="37.2" y="224.1">100</text>
<text x="37.2" y="347.4">150</text>
<text x="37.2" y="434.8">200</text>
<text x="37.2" y="502.7">250</text>
<text x="37.2" y="558.1">300</text>
<text x="37.2" y="713.4">500</text>
<text x="37.2" y="815.7">700</text>
<text x="37.2" y="874.7">850</text>
<text x="37.2" y="900.4">925</text>
<text x="20.2" y="924.1">1000</text>
</g>
<g class="m" font-size="17.6" fill="#ff920f" stroke="#fff" stroke-width="0.15">
<text x="829.32 840.52 851.72 862.92 874.12 885.32" y="220.9">16449m</text>
<text x="829.32 840.52 851.72 862.92 874.12 885.32" y="344.2">13979m</text>
<text x="829.32 840.52 851.72 862.92 874.12 885.32" y="431.6">12138m</text>
<text x="829.32 841.10 851.72 862.92 874.12 885.32" y="499.5">1<tspan font-family="Liberation Sans" font-size="16.86">0</tspan>645m</text>
<text x="840.52 851.72 862.92 874.12 885.32" y="554.9">9379m</text>
<text x="840.52 851.72 862.92 874.12 885.32" y="710.2">5697m</text>
<text x="840.52 852.30 862.92 874.12 885.32" y="812.5">3<tspan font-family="Liberation Sans" font-size="16.86">0</tspan>88m</text>
<text x="840.52 851.72 863.50 874.12 885.32" y="871.5">15<tspan font-family="Liberation Sans" font-size="16.86">0</tspan>2m</text>
<text x="851.72 863.50 874.12 885.32" y="897.2">8<tspan font-family="Liberation Sans" font-size="16.86">0</tspan>4m</text>
<text x="851.72 862.92 874.12 885.32" y="920.9">151m</text>
</g>
<g class="m" font-size="22.6" stroke="#fff" stroke-width="0.5">
<text x="7.12 22.27 35.92 50.32 64.72 79.12 93.52 107.92 122.32 137.47 151.87 166.27 180.67 194.32 208.72 223.87 237.52 251.92 266.32 280.72 295.12 309.52 323.92 338.32 353.47 367.12 381.52 395.92 410.32 424.72 439.12" y="24" fill="#b0006c">2<tspan font-family="Liberation Sans" font-size="21.65">0</tspan>251129T<tspan font-family="Liberation Sans" font-size="21.65">0</tspan><tspan font-family="Liberation Sans" font-size="21.65">0</tspan><tspan font-family="Liberation Sans" font-size="21.65">0</tspan><tspan font-family="Liberation Sans" font-size="21.65">0</tspan>Z+<tspan font-family="Liberation Sans" font-size="21.65">0</tspan>6 +29+13<tspan font-family="Liberation Sans" font-size="21.65">0</tspan>/Amami</text>
<text x="7.12 22.27 35.92 50.32 64.72 79.12 93.52 107.92 122.32 137.47 151.87 166.27 180.67 194.32 208.72 223.87 237.52 251.92 266.32 280.72 295.87 309.52 323.92 338.32 353.47 367.12 381.52 395.92 410.32 424.72 439.12 453.52 467.92 482.32 496.72" y="48" fill="#ff2800">2<tspan font-family="Liberation Sans" font-size="21.65">0</tspan>251129T<tspan font-family="Liberation Sans" font-size="21.65">0</tspan><tspan font-family="Liberation Sans" font-size="21.65">0</tspan><tspan font-family="Liberation Sans" font-size="21.65">0</tspan><tspan font-family="Liberation Sans" font-size="21.65">0</tspan>Z+<tspan font-family="Liberation Sans" font-size="21.65">0</tspan>6 +3<tspan font-family="Liberation Sans" font-size="21.65">0</tspan>+13<tspan font-family="Liberation Sans" font-size="21.65">0</tspan>/Yakushima</text>
<text x="7.12 22.27 35.92 50.32 64.72 79.12 93.52 107.92 122.32 137.47 151.87 166.27 180.67 194.32 208.72 223.87 237.52 251.92 266.32 280.72 295.12 309.52 323.92 338.32 353.47 367.12 381.52 395.92 410.32 424.72 439.12 453.52 467.92 482.32 496.72 511.12" y="72" fill="#ff9406">2<tspan font-family="Liberation Sans" font-size="21.65">0</tspan>251129T<tspan font-family="Liberation Sans" font-size="21.65">0</tspan><tspan font-family="Liberation Sans" font-size="21.65">0</tspan><tspan font-family="Liberation Sans" font-size="21.65">0</tspan><tspan font-family="Liberation Sans" font-size="21.65">0</tspan>Z+<tspan font-family="Liberation Sans" font-size="21.65">0</tspan>6 +31+13<tspan font-family="Liberation Sans" font-size="21.65">0</tspan>/Makurazaki</text>
<text x="7.12 22.27 35.92 50.32 64.72 79.12 93.52 107.92 122.32 137.47 151.87 166.27 180.67 194.32 208.72 223.87 237.52 251.92 266.32 280.72 295.12 309.52 323.92 338.32 353.47 367.12 381.52 395.92 410.32 424.72 439.12 453.52 467.92" y="96" fill="#f2e800">2<tspan font-family="Liberation Sans" font-size="21.65">0</tspan>251129T<tspan font-family="Liberation Sans" font-size="21.65">0</tspan><tspan font-family="Liberation Sans" font-size="21.65">0</tspan><tspan font-family="Liberation Sans" font-size="21.65">0</tspan><tspan font-family="Liberation Sans" font-size="21.65">0</tspan>Z+<tspan font-family="Liberation Sans" font-size="21.65">0</tspan>6 +33+13<tspan font-family="Liberation Sans" font-size="21.65">0</tspan>/Amakusa</text>
<text x="7.12 22.27 35.92 50.32 64.72 79.12 93.52 107.92 122.32 137.47 151.87 166.27 180.67 194.32 208.72 223.87 237.52 251.92 266.32 280.72 295.12 309.52 323.92 338.32 353.47 367.12 381.52 395.92 410.32 424.72 439.12 453.52 467.92" y="120" fill="#0a3cfa">2<tspan font-family="Liberation Sans" font-size="21.65">0</tspan>251129T<tspan font-family="Liberation Sans" font-size="21.65">0</tspan><tspan font-family="Liberation Sans" font-size="21.65">0</tspan><tspan font-family="Liberation Sans" font-size="21.65">0</tspan><tspan font-family="Liberation Sans" font-size="21.65">0</tspan>Z+<tspan font-family="Liberation Sans" font-size="21.65">0</tspan>6 +34+13<tspan font-family="Liberation Sans" font-size="21.65">0</tspan>/Karatsu</text>
<text x="7.12 22.27 35.92 50.32 64.72 79.12 93.52 107.92 122.32 137.47 151.87 166.27 180.67 194.32 208.72 223.87 237.52 251.92 266.32 280.72 295.12 309.52 323.92 338.32 353.47 367.12 381.52 395.92 410.32 424.72 439.12 453.52 467.92 482.32" y="144" fill="#2288ff">2<tspan font-family="Liberation Sans" font-size="21.65">0</tspan>251129T<tspan font-family="Liberation Sans" font-size="21.65">0</tspan><tspan font-family="Liberation Sans" font-size="21.65">0</tspan><tspan font-family="Liberation Sans" font-size="21.65">0</tspan><tspan font-family="Liberation Sans" font-size="21.65">0</tspan>Z+<tspan font-family="Liberation Sans" font-size="21.65">0</tspan>6 +35+13<tspan font-family="Liberation Sans" font-size="21.65">0</tspan>/Tsushima</text>
<text x="7.12 22.27 35.92 50.32 64.72 79.12 93.52 107.92 122.32 137.47 151.87 166.27 180.67 194.32 208.72 223.87 237.52 251.92 266.32 280.72 295.12 309.52 323.92 338.32 353.47 367.12 381.52 395.92 410.32 424.72 439.12 453.52" y="168" fill="#96c8ff">2<tspan font-family="Liberation Sans" font-size="21.65">0</tspan>251129T<tspan font-family="Liberation Sans" font-size="21.65">0</tspan><tspan font-family="Liberation Sans" font-size="21.65">0</tspan><tspan font-family="Liberation Sans" font-size="21.65">0</tspan><tspan font-family="Liberation Sans" font-size="21.65">0</tspan>Z+<tspan font-family="Liberation Sans" font-size="21.65">0</tspan>6 +36+13<tspan font-family="Liberation Sans" font-size="21.65">0</tspan>/Pohang</text>
</g>
<g fill="none" stroke-width="3.25" stroke-linejoin="miter" stroke-miterlimit="10">
<path d="M678.5,923.5 L639.8,900.0 L624.6,874.5 L653.2,853.3 L630.8,815.3 L588.9,768.6 L574.5,713.5 L605.4,610.0 L572.6,558.0 L530.5,502.5 L479.0,434.4 L450.0,364.3 L464.0,347.2 L439.3,284.3 L457.8,223.6 L528.9,115.5 L662.4,38.1 L727.5,12.8 L790.6,-10.0" stroke="#b0006c"/>
<path d="M266.4,557.5 L159.8,645.0 L158.7,713.4 L194.4,768.4 L299.0,815.3 L531.0,874.3 L602.5,899.5 L600.2,923.5" stroke="#b0006c"/>
<path d="M663.3,923.5 L624.0,900.0 L618.9,882.5 L643.0,874.3 L630.8,815.3 L579.3,768.2 L543.0,713.5 L555.0,645.0 L567.4,558.0 L533.8,502.5 L479.0,434.5 L465.0,363.4 L479.0,347.2 L469.2,223.6 L468.5,181.0 L546.9,116.3 L701.5,16.1 L726.9,12.3 L790.0,-10.0" stroke="#ff2800"/>
<path d="M192.1,557.5 L111.3,645.0 L151.7,713.4 L276.0,768.4 L339.2,815.2 L370.8,873.5 L596.3,899.8 L594.9,923.5" stroke="#ff2800"/>
<path d="M651.2,923.5 L613.8,900.0 L631.0,874.5 L629.3,815.3 L578.6,768.5 L532.0,713.5 L507.7,676.0 L510.2,645.0 L529.3,554.0 L532.0,502.5 L487.9,434.6 L480.0,385.4 L502.0,347.2 L469.2,223.6 L488.3,158.4 L562.0,114.2 L648.2,68.1 L699.6,12.5 L767.4,-12.3" stroke="#ff9406"/>
<path d="M191.4,557.8 L132.8,645.0 L163.3,680.6 L200.8,713.4 L306.4,768.1 L329.5,815.2 L342.6,873.5 L549.8,900.8 L562.7,923.5" stroke="#ff9406"/>
<path d="M637.3,923.5 L603.0,900.0 L622.0,874.5 L624.4,815.3 L576.5,769.0 L532.8,713.5 L486.6,645.0 L484.5,558.0 L503.4,502.5 L501.0,435.5 L515.1,347.5 L478.9,223.6 L478.1,161.6 L551.6,120.0 L689.0,64.7 L700.2,12.5 L768.0,-12.3" stroke="#f2e800"/>
<path d="M217.2,557.5 L156.7,645.0 L230.0,713.4 L328.0,768.4 L255.3,815.3 L341.6,873.5 L515.8,899.8 L548.0,923.5" stroke="#f2e800"/>
<path d="M634.7,923.5 L591.6,899.9 L597.3,880.0 L613.8,874.3 L613.0,815.3 L573.5,768.2 L526.0,713.5 L473.3,645.0 L457.4,558.0 L467.5,502.5 L469.4,497.0 L507.2,434.6 L520.4,347.2 L492.0,223.6 L492.2,186.3 L553.0,115.3 L764.5,19.0 L731.6,13.1 L771.0,-11.0" stroke="#0a3cfa"/>
<path d="M247.7,557.5 L213.0,645.0 L230.2,713.4 L320.3,768.4 L293.7,815.4 L366.3,874.3 L556.8,900.2 L556.4,923.5" stroke="#0a3cfa"/>
<path d="M632.2,923.5 L592.2,900.0 L596.0,880.0 L599.6,857.0 L601.3,815.3 L568.4,768.2 L520.5,713.5 L465.3,645.0 L430.9,558.0 L441.0,502.5 L500.2,434.6 L524.8,380.0 L515.1,347.2 L493.0,317.7 L501.7,223.6 L524.8,175.5 L586.0,115.5 L726.9,19.9 L756.0,14.6 L790.0,-10.0" stroke="#2288ff"/>
<path d="M268.8,557.5 L320.3,645.0 L328.2,713.4 L305.8,768.1 L321.3,815.4 L391.9,874.7 L560.3,899.8 L560.3,923.5" stroke="#2288ff"/>
<path d="M624.0,923.5 L589.0,900.0 L590.2,815.3 L564.3,768.2 L511.6,713.5 L463.0,645.0 L404.6,558.0 L399.0,531.7 L413.4,502.5 L480.0,434.6 L510.7,389.8 L515.1,347.2 L495.6,310.6 L511.4,223.6 L606.5,114.3 L680.0,54.5 L790.0,-13.0" stroke="#96c8ff"/>
<path d="M279.3,557.5 L321.5,641.0 L323.0,645.0 L325.8,713.2 L305.2,768.1 L305.2,815.5 L484.0,900.2 L522.8,923.5" stroke="#96c8ff"/>
</g>
<g fill="none" stroke="#ff920f" stroke-width="1.3" stroke-linejoin="miter">
<path d="M959.9,13.4 L919.8,13.2 M919.8,13.2 L913.3,-5.5 L925.7,13.2 M925.7,13.2 L922.4,3.9"/>
<path d="M959.9,115.4 L920.1,110.8 M920.1,110.8 L915.7,91.5 L926.0,111.5 M926.0,111.5 L921.6,92.1"/>
<path d="M960.0,224.1 L920.0,227.2 M920.0,227.2 L912.0,209.1 L925.9,226.7 M925.9,226.7 L917.8,208.6 M931.8,226.3 L923.7,208.2 M937.6,225.8 L929.6,207.7"/>
<path d="M959.9,346.9 L920.2,352.1 M920.2,352.1 L911.2,334.4 L926.1,351.3 M926.1,351.3 L917.1,333.6 M931.9,350.6 L922.9,332.9 M937.8,349.8 L928.8,332.1 M943.6,349.0 L934.6,331.4"/>
<path d="M959.7,434.6 L920.4,441.3 M920.4,441.3 L910.8,424.0 L926.2,440.3 M926.2,440.3 L916.6,423.0 L932.0,439.3 M932.0,439.3 L922.4,422.0 M937.8,438.3 L928.2,421.0 M943.7,437.3 L934.0,420.0"/>
<path d="M959.9,502.4 L920.5,510.6 M920.5,510.6 L910.2,493.6 L926.3,509.4 M926.3,509.4 L916.0,492.4 L932.1,508.2 M932.1,508.2 L921.8,491.2 M937.8,507.0 L927.6,490.0 M943.6,505.8 L933.3,488.8"/>
<path d="M959.9,557.9 L920.5,565.3 M920.5,565.3 L910.6,548.1 L926.3,564.2 M926.3,564.2 L916.4,547.1 M932.1,563.1 L922.2,546.0 M937.9,562.0 L928.0,544.9 M943.7,560.9 L933.8,543.8"/>
<path d="M959.9,645.3 L920.2,649.0 M920.2,649.0 L911.9,631.0 M926.1,648.5 L917.8,630.4 M931.9,647.9 L923.6,629.9 M937.8,647.4 L929.5,629.4"/>
<path d="M959.9,713.2 L920.5,719.0 M920.5,719.0 L911.2,701.5 M926.3,718.1 L917.1,700.6"/>
<path d="M959.9,768.3 L920.5,776.0 M926.3,774.9 L921.3,766.3"/>
<path d="M959.9,815.6 L920.8,805.9 M926.5,807.3 L925.6,797.5"/>
<path d="M959.8,874.4 L921.5,863.6 M927.2,865.2 L926.5,855.3"/>
<path d="M959.8,900.0 L925.9,879.5 M930.9,882.6 L933.0,872.8"/>
<path d="M959.8,923.7 L938.1,890.5 M941.3,895.4 L947.3,887.6"/>
</g>
</svg></body></html>
